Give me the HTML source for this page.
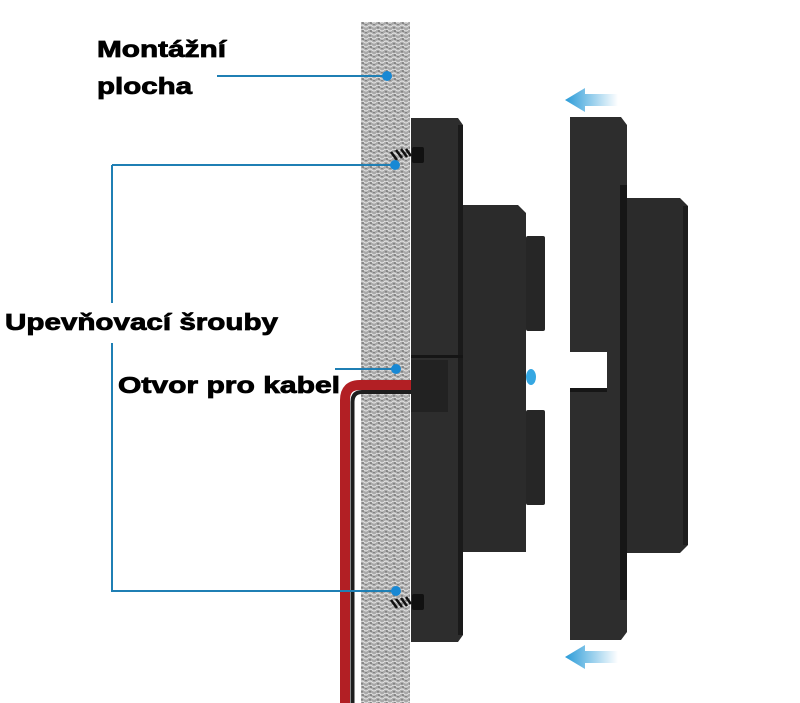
<!DOCTYPE html>
<html><head><meta charset="utf-8"><style>html,body{margin:0;padding:0;background:#fff}svg{display:block}</style></head><body>
<svg width="800" height="703" viewBox="0 0 800 703" xmlns="http://www.w3.org/2000/svg">
<defs>
<pattern id="tx" width="8" height="8" patternUnits="userSpaceOnUse">
<rect width="8" height="8" fill="#a8a8a8"/>
<path d="M0 2 Q2 0 4 2 T8 2 M0 6 Q2 4 4 6 T8 6" stroke="#e0e0e0" stroke-width="1.2" fill="none"/>
<path d="M1 4 L3 4 M5 0 L7 0 M2 7 L4 7" stroke="#707070" stroke-width="1.2"/>
</pattern>
<linearGradient id="ar" x1="0" x2="1"><stop offset="0" stop-color="#2a9bd8"/><stop offset="1" stop-color="#2a9bd8" stop-opacity="0"/></linearGradient>
</defs>
<rect x="361" y="22" width="49" height="681" fill="url(#tx)"/>
<path d="M345 703 L345 400 Q345 385 360 385 L411 385" stroke="#b21f24" stroke-width="10" fill="none"/>
<path d="M352.5 703 L352.5 402 Q352.5 392 362 392 L411 392" stroke="#1e1e1e" stroke-width="4" fill="none"/>
<path d="M411 118 L458 118 L463 125 L463 635 L458 642 L411 642 Z" fill="#2d2d2d"/>
<rect x="458" y="125" width="5" height="510" fill="#1a1a1a"/>
<path d="M463 205 L518 205 L526 213 L526 552 L463 552 Z" fill="#2b2b2b"/>
<rect x="526" y="236" width="19" height="95" rx="2" fill="#262626"/>
<rect x="526" y="410" width="19" height="95" rx="2" fill="#262626"/>
<rect x="411" y="360" width="37" height="52" fill="#222"/>
<rect x="411" y="355" width="52" height="3" fill="#151515"/>
<ellipse cx="531" cy="377" rx="5" ry="8" fill="#35a7e2"/>
<rect x="412" y="147" width="12" height="16" rx="2" fill="#111"/>
<path d="M391 152l6 8M396 150l6 8M401 149l6 8M406 149l5 7" stroke="#111" stroke-width="2.5"/>
<rect x="412" y="594" width="12" height="16" rx="2" fill="#111"/>
<path d="M391 600l6 8M396 599l6 8M401 598l6 8M406 597l5 7" stroke="#111" stroke-width="2.5"/>
<path d="M570 117 L621 117 L627 125 L627 632 L621 640 L570 640 L570 392 L607 392 L607 352 L570 352 Z" fill="#2d2d2d"/>
<rect x="620" y="185" width="7" height="415" fill="#161616"/>
<rect x="570" y="388" width="37" height="4" fill="#161616"/>
<path d="M627 198 L680 198 L688 206 L688 545 L680 553 L627 553 Z" fill="#2b2b2b"/>
<rect x="683" y="206" width="5" height="339" fill="#1d1d1d"/>
<path d="M565 100 L585 88 L585 94 L618 94 L618 106 L585 106 L585 112 Z" fill="url(#ar)"/>
<path d="M565 657 L585 645 L585 651 L618 651 L618 663 L585 663 L585 669 Z" fill="url(#ar)"/>
<g stroke="#1f7fb4" stroke-width="2" fill="none">
<path d="M217 76 L387 76"/>
<path d="M112 165 L395 165 M112 165 L112 303 M112 343 L112 591 L396 591"/>
<path d="M335 369 L396 369"/>
</g>
<g fill="#1888d4">
<circle cx="387" cy="76" r="5"/><circle cx="395" cy="165" r="5"/><circle cx="396" cy="369" r="5"/><circle cx="396" cy="591" r="5"/>
</g>
<g font-family="Liberation Sans, sans-serif" font-weight="bold" font-size="23" fill="#000" stroke="#000" stroke-width="0.8">
<text x="97" y="57" textLength="129" lengthAdjust="spacingAndGlyphs">Montážní</text>
<text x="97" y="94" textLength="95" lengthAdjust="spacingAndGlyphs">plocha</text>
<text x="5" y="330" textLength="273" lengthAdjust="spacingAndGlyphs">Upevňovací šrouby</text>
<text x="118" y="393" textLength="222" lengthAdjust="spacingAndGlyphs">Otvor pro kabel</text>
</g>
</svg>
</body></html>
